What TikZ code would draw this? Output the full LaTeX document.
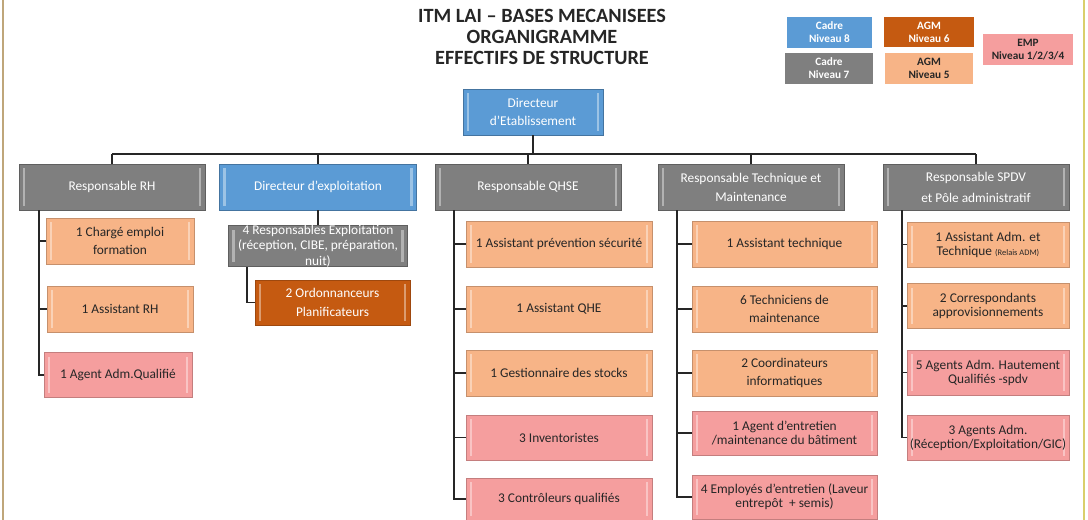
\documentclass[tikz,border=0pt]{standalone}
\usepackage{fontspec}
\setmainfont{Carlito}
\definecolor{HeadGrey}{HTML}{7F7F7F}
\definecolor{HeadBlue}{HTML}{5B9BD5}
\definecolor{LightOrange}{HTML}{F7B487}
\definecolor{DarkOrange}{HTML}{C55A11}
\definecolor{EmpPink}{HTML}{F59E9E}
\definecolor{LinkBlack}{HTML}{262626}
\definecolor{LeftEdge}{HTML}{BFA67A}
\definecolor{RightEdge}{HTML}{D9CF6B}
\definecolor{BodyText}{HTML}{262626}

\tikzset{
  bevel/.style={path picture={
    \fill[white,opacity=.4] ([xshift=2.8pt,yshift=-3pt]path picture bounding box.north west)
      rectangle ([xshift=4.6pt,yshift=3pt]path picture bounding box.south west);
    \fill[white,opacity=.4] ([xshift=-4.6pt,yshift=-3pt]path picture bounding box.north east)
      rectangle ([xshift=-2.8pt,yshift=3pt]path picture bounding box.south east);
  }},
  box/.style={rectangle, inner sep=0pt, align=center, line width=.4pt,
    font=\fontsize{9.5}{10}\selectfont, bevel},
  greyhead/.style={box, fill=HeadGrey, draw=HeadGrey!75!black, text=white,
    minimum width=4.65cm, minimum height=1.15cm},
  bluehead/.style={box, fill=HeadBlue, draw=HeadBlue!75!black, text=white,
    minimum width=4.65cm, minimum height=1.15cm},
  lightbox/.style={box, fill=LightOrange, draw=LightOrange!80!black, text=BodyText},
  darkbox/.style={box, fill=DarkOrange, draw=DarkOrange!80!black, text=white},
  pinkbox/.style={box, fill=EmpPink, draw=EmpPink!80!black, text=BodyText},
  legend/.style={rectangle, inner sep=0pt, align=center,
    font=\bfseries\fontsize{8}{9.3}\selectfont, minimum height=.775cm},
  link/.style={draw=LinkBlack, line width=1pt},
}

\begin{document}
\begin{tikzpicture}[x=0.025cm, y=-0.025cm]

\useasboundingbox (0,0) rectangle (1088,520);
\draw[LeftEdge, line width=1.2pt] (3,0) -- (3,520);
\draw[RightEdge, line width=1.2pt] (1084,0) -- (1084,520);

\node[align=center, text=BodyText, font=\bfseries\fontsize{14.4}{15}\selectfont] (title) at (542,37)
    {ITM LAI – BASES MECANISEES\\ORGANIGRAMME\\EFFECTIFS DE STRUCTURE};

\node[legend, fill=HeadBlue, text=white, minimum width=2.125cm] (cadre8) at (829.5,32.5) {Cadre\\Niveau 8};
\node[legend, fill=HeadGrey, text=white, minimum width=2.2cm] (cadre7) at (829,68.5) {Cadre\\Niveau 7};
\node[legend, fill=DarkOrange, text=white, minimum width=2.25cm, minimum height=.75cm] (agm6) at (929,32) {AGM\\Niveau 6};
\node[legend, fill=LightOrange, text=BodyText, minimum width=2.2cm] (agm5) at (929,68.5) {AGM\\Niveau 5};
\node[legend, fill=EmpPink, text=BodyText, minimum width=2.25cm] (emp) at (1028,49.5) {EMP\\Niveau 1/2/3/4};

\node[bluehead, minimum width=3.5cm] (dir) at (533,112) {Directeur\\[3pt]d’Etablissement};

\node[greyhead] (rh) at (112,187) {Responsable RH};
\node[bluehead, minimum width=4.925cm] (dex) at (318,187) {Directeur d’exploitation};
\node[greyhead] (qhse) at (528,187) {Responsable QHSE};
\node[greyhead] (rtm) at (751,187) {Responsable Technique et\\[3.5pt]Maintenance};
\node[greyhead] (spdv) at (976,187) {Responsable SPDV\\[5pt]et Pôle administratif};

\coordinate (barL) at (112,154);
\coordinate (barR) at (976,154);
\draw[link] (barL) -- (barR);
\draw[link] (dir.south) -- (dir.south |- barL);
\foreach \h in {rh, dex, qhse, rtm, spdv}
  \draw[link] (\h.north) -- (\h.north |- barL);

\node[lightbox, minimum width=3.7cm, minimum height=1.15cm] (rh1) at (120,241) {1 Chargé emploi\\[3pt]formation};
\node[lightbox, minimum width=3.65cm, minimum height=1.15cm] (rh2) at (120,309) {1 Assistant RH};
\node[pinkbox, minimum width=3.7cm, minimum height=1.125cm] (rh3) at (118,375) {1 Agent Adm.Qualifié};
\coordinate (rhspine) at (39,210);
\foreach \c in {rh1, rh2, rh3}
  \draw[link] (\c.west) -| (rhspine);

\node[greyhead, minimum width=4.475cm, minimum height=1.025cm] (rex) at (318,246) {};
\node[align=center, text=white, font=\fontsize{9.5}{11}\selectfont] (rextext) at (rex) {4 Responsables Exploitation\\(réception, CIBE, préparation,\\nuit)};
\node[darkbox, minimum width=3.875cm, minimum height=1.125cm] (ord) at (332.5,302.5) {2 Ordonnanceurs\\[3pt]Planificateurs};
\coordinate (rexspine) at (247,266.5);
\draw[link] (dex.south) -- (rex.north);
\draw[link] (ord.west) -| (rexspine);

\node[lightbox, minimum width=4.65cm, minimum height=1.15cm] (qh1) at (559,244) {1 Assistant prévention sécurité};
\node[lightbox, minimum width=4.65cm, minimum height=1.15cm] (qh2) at (559,309) {1 Assistant QHE};
\node[lightbox, minimum width=4.65cm, minimum height=1.15cm] (qh3) at (559,373) {1 Gestionnaire des stocks};
\node[pinkbox, minimum width=4.65cm, minimum height=1.125cm] (qh4) at (559,437.5) {3 Inventoristes};
\node[pinkbox, minimum width=4.65cm, minimum height=1.05cm] (qh5) at (559,499) {3 Contrôleurs qualifiés};
\coordinate (qhspine) at (454,210);
\foreach \c in {qh1, qh2, qh3, qh4, qh5}
  \draw[link] (\c.west) -| (qhspine);

\node[lightbox, minimum width=4.625cm, minimum height=1.15cm] (tm1) at (784.5,244) {1 Assistant technique};
\node[lightbox, minimum width=4.625cm, minimum height=1.15cm] (tm2) at (784.5,309) {6 Techniciens de\\[3pt]maintenance};
\node[lightbox, minimum width=4.625cm, minimum height=1.15cm] (tm3) at (784.5,373) {2 Coordinateurs\\[3pt]informatiques};
\node[pinkbox, minimum width=4.625cm, minimum height=1.1cm] (tm4) at (784.5,433) {1 Agent d’entretien\\/maintenance du bâtiment};
\node[pinkbox, minimum width=4.625cm, minimum height=1.1cm] (tm5) at (784.5,497) {4 Employés d’entretien (Laveur\\entrepôt \ + semis)};
\coordinate (tmspine) at (677,210);
\foreach \c in {tm1, tm2, tm3, tm4, tm5}
  \draw[link] (\c.west) -| (tmspine);

\node[lightbox, minimum width=4.05cm, minimum height=1.125cm] (sp1) at (988,244.5) {1 Assistant Adm. et\\Technique {\fontsize{6}{7}\selectfont(Relais ADM)}};
\node[lightbox, minimum width=4.05cm, minimum height=1.125cm] (sp2) at (988,306) {2 Correspondants\\approvisionnements};
\node[pinkbox, minimum width=4.05cm, minimum height=1.125cm] (sp3) at (988,372.5) {5 Agents Adm. Hautement\\Qualifiés -spdv};
\node[pinkbox, minimum width=4.05cm, minimum height=1.125cm] (sp4) at (988,437.5) {3 Agents Adm.\\(Réception/Exploitation/GIC)};
\coordinate (spspine) at (902,210);
\foreach \c in {sp1, sp2, sp3, sp4}
  \draw[link] (\c.west) -| (spspine);

\end{tikzpicture}
\end{document}
